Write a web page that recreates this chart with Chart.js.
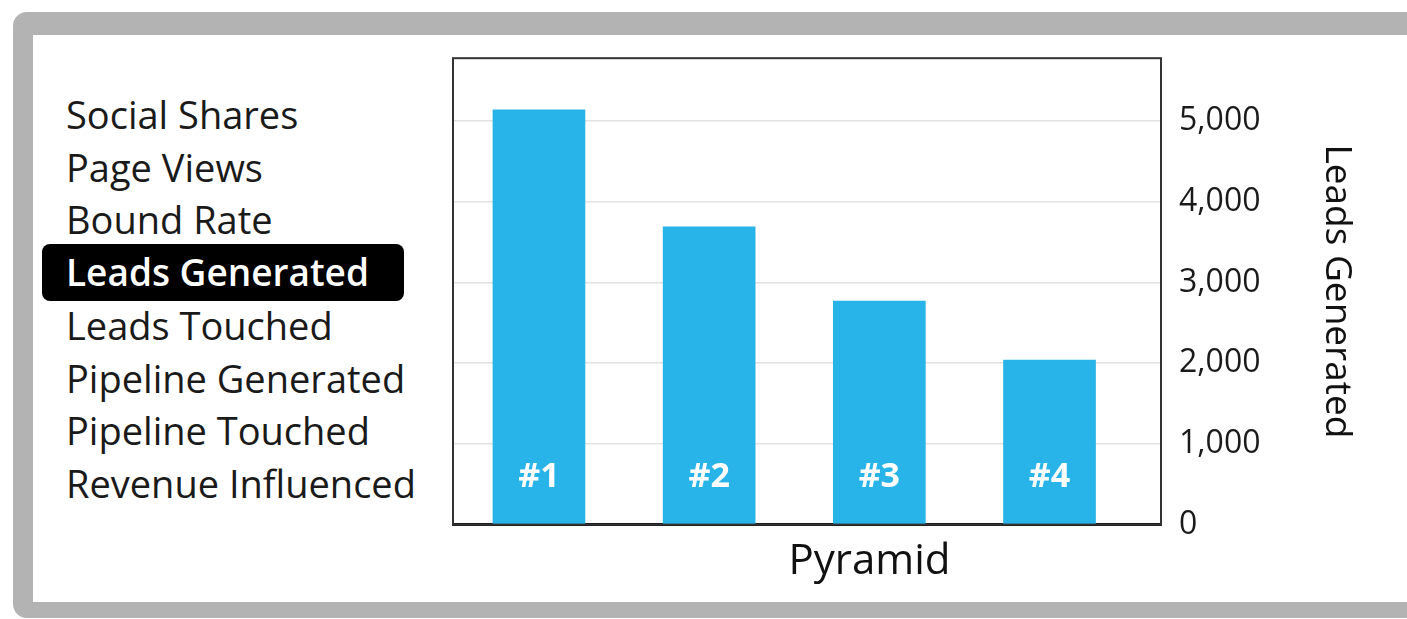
<!DOCTYPE html>
<html>
<head>
<meta charset="utf-8">
<script src="https://cdn.jsdelivr.net/npm/chart.js@4.4.1/dist/chart.umd.min.js"></script>
<style>
  html, body { margin: 0; padding: 0; background: #fff; width: 1407px; height: 619px; overflow: hidden; }
  body { font-family: "Open Sans", sans-serif; color: #1a1a1a; }
  #frame {
    position: absolute; left: 13px; top: 12px; width: 1420px; height: 606px;
    box-sizing: border-box; background: #fff;
    border: 20px solid #b3b3b3; border-top-width: 23px; border-bottom-width: 16px;
    border-radius: 14px;
  }
  #menu {
    position: absolute; left: 66px; top: 88px; margin: 0; padding: 0;
    list-style: none; font-size: 38px; line-height: 52.7px; white-space: nowrap;
  }
  #menu li.active {
    background: #000; color: #fff; font-weight: 600; border-radius: 8px;
    font-size: 37px;
    margin: -2px 0 -2px -24px; padding: 2px 0 2px 24px; width: 338px;
  }
  /* le haut du canvas laisse la place du demi-label + padding de l'axe y */
  #chartBox { position: absolute; left: 379px; top: 21px; width: 981px; height: 579px; }
</style>
</head>
<body>
<div id="frame"></div>
<ul id="menu"></ul>
<div id="chartBox"><canvas id="chart"></canvas></div>
<script>
// Données
const categories = ['#1', '#2', '#3', '#4'];
const leadsGenerated = [5140, 3690, 2770, 2040];
const yTicks = [0, 1000, 2000, 3000, 4000, 5000];
const menuItems = ['Social Shares', 'Page Views', 'Bound Rate', 'Leads Generated',
                   'Leads Touched', 'Pipeline Generated', 'Pipeline Touched', 'Revenue Influenced'];
const activeItem = 'Leads Generated';

// Menu de gauche (texte HTML)
const menu = document.getElementById('menu');
menuItems.forEach(function(name) {
    const li = document.createElement('li');
    li.textContent = name;
    if (name === activeItem) li.className = 'active';
    menu.appendChild(li);
});

// Cadre noir autour de la zone de tracé (haut, gauche, droite)
const frameBox = {
    id: 'frameBox',
    afterDatasetsDraw: function(chart) {
        const a = chart.chartArea;
        const ctx = chart.ctx;
        ctx.save();
        ctx.strokeStyle = '#333';
        ctx.lineWidth = 2;
        ctx.strokeRect(a.left, a.top, a.right - a.left, a.bottom - a.top);
        ctx.restore();
    }
};

// Étiquettes "#n" en blanc en bas de chaque barre
const barLabels = {
    id: 'barLabels',
    afterDatasetsDraw: function(chart) {
        const ctx = chart.ctx;
        const meta = chart.getDatasetMeta(0);
        ctx.save();
        ctx.fillStyle = '#fff';
        ctx.font = 'bold 34px "Open Sans", sans-serif';
        ctx.textAlign = 'center';
        ctx.textBaseline = 'middle';
        meta.data.forEach(function(bar, i) {
            ctx.fillText(categories[i], bar.x, bar.base - 47);
        });
        ctx.restore();
    }
};

new Chart(document.getElementById('chart'), {
    type: 'bar',
    data: {
        datasets: [{
            label: 'Leads Generated',
            data: categories.map(function(c, i) { return { x: i + 1, y: leadsGenerated[i] }; }),
            xAxisID: 'x',
            yAxisID: 'y',
            backgroundColor: '#28b4e8',
            borderWidth: 0,
            barThickness: 92
        }]
    },
    plugins: [frameBox, barLabels],
    options: {
        responsive: true,
        maintainAspectRatio: false,
        animation: false,
        plugins: {
            legend: { display: false },
            tooltip: { enabled: false },
            title: {
                display: true,
                position: 'bottom',
                text: 'Pyramid',
                color: '#111',
                font: { family: '"Open Sans", sans-serif', size: 42, weight: 'normal' },
                padding: { top: 12, bottom: 13 }
            }
        },
        scales: {
            x: {
                type: 'linear',
                offset: false,
                min: 0.495,
                max: 4.655,
                afterBuildTicks: function(s) { s.ticks = categories.map(function(c, i) { return { value: i + 1 }; }); },
                ticks: { display: false },
                grid: { display: false, drawTicks: false, offset: false },
                border: { display: true, color: '#111', width: 3 }
            },
            // axe vide à gauche pour centrer le titre "Pyramid" comme sur l'image
            spacer: {
                type: 'linear',
                position: 'left',
                afterFit: function(s) { s.width = 74; },
                ticks: { display: false },
                grid: { display: false, drawTicks: false },
                border: { display: false }
            },
            y: {
                position: 'right',
                min: 0,
                max: 5780,
                afterBuildTicks: function(s) { s.ticks = yTicks.map(function(v) { return { value: v }; }); },
                afterFit: function(s) { s.width = 199; },
                ticks: {
                    padding: 18,
                    color: '#1a1a1a',
                    font: { family: '"Open Sans", sans-serif', size: 32 },
                    callback: function(v) { return v.toLocaleString('en-US'); }
                },
                grid: { color: '#e2e2e2', lineWidth: 1.5, drawTicks: false },
                border: { display: false },
                title: {
                    display: true,
                    text: 'Leads Generated',
                    color: '#111',
                    font: { family: '"Open Sans", sans-serif', size: 37 },
                    padding: { top: 1, bottom: 0 }
                }
            }
        }
    }
});
</script>
</body>
</html>
